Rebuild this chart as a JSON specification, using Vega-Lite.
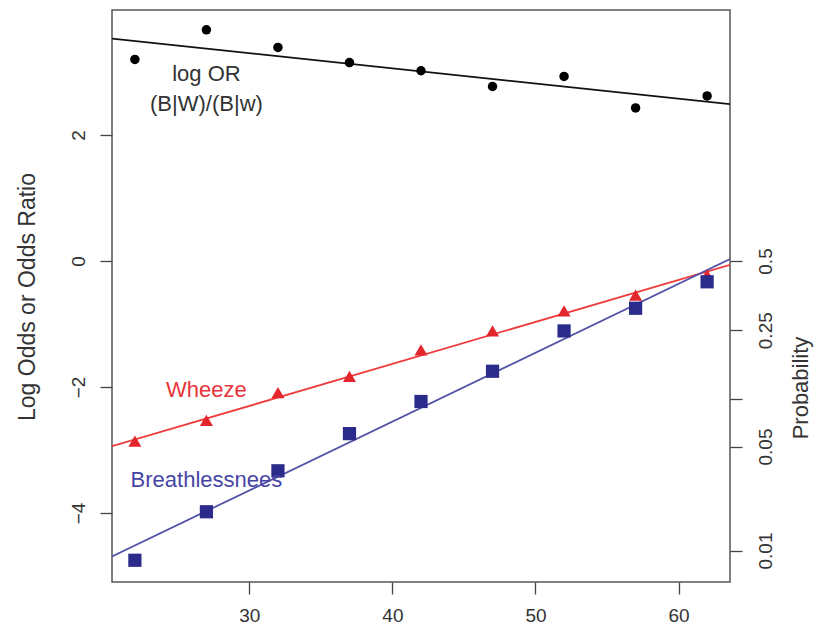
{
  "$schema": "https://vega.github.io/schema/vega-lite/v6.json",
  "width": 618,
  "height": 572,
  "autosize": {"type": "none"},
  "padding": {"left": 112, "top": 10, "right": 89, "bottom": 42},
  "background": "white",
  "config": {
    "font": "Liberation Sans",
    "view": {"stroke": "#555555", "strokeWidth": 1.5},
    "axis": {
      "domain": false,
      "grid": false,
      "tickColor": "#444444",
      "tickWidth": 1.3,
      "tickSize": 12,
      "labelColor": "#333333",
      "labelFont": "Liberation Sans",
      "labelFontSize": 19,
      "labelOverlap": false,
      "labelFlush": false,
      "labelBound": false,
      "titleFont": "Liberation Sans",
      "titleFontWeight": "normal",
      "titleColor": "#333333"
    }
  },
  "datasets": {
    "pts": [
      {"series": "or", "age": 22, "logodds": 3.20},
      {"series": "or", "age": 27, "logodds": 3.67},
      {"series": "or", "age": 32, "logodds": 3.39},
      {"series": "or", "age": 37, "logodds": 3.15},
      {"series": "or", "age": 42, "logodds": 3.02},
      {"series": "or", "age": 47, "logodds": 2.77},
      {"series": "or", "age": 52, "logodds": 2.93},
      {"series": "or", "age": 57, "logodds": 2.43},
      {"series": "or", "age": 62, "logodds": 2.62},
      {"series": "wheeze", "age": 22, "logodds": -2.86},
      {"series": "wheeze", "age": 27, "logodds": -2.53},
      {"series": "wheeze", "age": 32, "logodds": -2.09},
      {"series": "wheeze", "age": 37, "logodds": -1.83},
      {"series": "wheeze", "age": 42, "logodds": -1.41},
      {"series": "wheeze", "age": 47, "logodds": -1.11},
      {"series": "wheeze", "age": 52, "logodds": -0.79},
      {"series": "wheeze", "age": 57, "logodds": -0.54},
      {"series": "wheeze", "age": 62, "logodds": -0.22},
      {"series": "breath", "age": 22, "logodds": -4.75},
      {"series": "breath", "age": 27, "logodds": -3.98},
      {"series": "breath", "age": 32, "logodds": -3.33},
      {"series": "breath", "age": 37, "logodds": -2.74},
      {"series": "breath", "age": 42, "logodds": -2.23},
      {"series": "breath", "age": 47, "logodds": -1.75},
      {"series": "breath", "age": 52, "logodds": -1.11},
      {"series": "breath", "age": 57, "logodds": -0.75},
      {"series": "breath", "age": 62, "logodds": -0.33}
    ],
    "lines": [
      {"series": "or", "age": 20.4, "logodds": 3.53},
      {"series": "or", "age": 63.6, "logodds": 2.49},
      {"series": "wheeze", "age": 20.4, "logodds": -2.94},
      {"series": "wheeze", "age": 63.6, "logodds": -0.06},
      {"series": "breath", "age": 20.4, "logodds": -4.69},
      {"series": "breath", "age": 63.6, "logodds": 0.03}
    ],
    "labels": [
      {"series": "or", "text": "log OR", "age": 27, "logodds": 2.97},
      {"series": "or", "text": "(B|W)/(B|w)", "age": 27, "logodds": 2.49},
      {"series": "wheeze", "text": "Wheeze", "age": 27, "logodds": -2.05},
      {"series": "breath", "text": "Breathlessnees", "age": 27, "logodds": -3.47}
    ]
  },
  "layer": [
    {
      "data": {"name": "lines"},
      "transform": [{"filter": "datum.series == 'or'"}],
      "mark": {"type": "line", "color": "#111111", "strokeWidth": 1.8, "clip": true},
      "encoding": {
        "x": {"field": "age", "type": "quantitative", "scale": {"domain": [20.4, 63.6], "nice": false, "zero": false},
              "axis": {"values": [30, 40, 50, 60], "title": null, "labelBaseline": "middle", "labelPadding": 21}},
        "y": {"field": "logodds", "type": "quantitative", "scale": {"domain": [-5.095, 3.984], "nice": false, "zero": false},
              "axis": {"values": [-4, -2, 0, 2], "labelAngle": -90, "labelAlign": "center", "labelBaseline": "middle", "labelPadding": 22,
                       "title": "Log Odds or Odds Ratio", "titleFontSize": 23, "titleAngle": -90, "titleX": -84.5, "titleY": 286.5,
                       "titleAlign": "center", "titleBaseline": "middle"}}
      }
    },
    {
      "data": {"name": "lines"},
      "transform": [{"filter": "datum.series == 'wheeze'"}],
      "mark": {"type": "line", "color": "#ee3b3b", "strokeWidth": 1.8, "clip": true},
      "encoding": {
        "x": {"field": "age", "type": "quantitative"},
        "y": {"field": "logodds", "type": "quantitative", "axis": null}
      }
    },
    {
      "data": {"name": "lines"},
      "transform": [{"filter": "datum.series == 'breath'"}],
      "mark": {"type": "line", "color": "#5252a8", "strokeWidth": 1.8, "clip": true},
      "encoding": {
        "x": {"field": "age", "type": "quantitative"},
        "y": {"field": "logodds", "type": "quantitative", "axis": null}
      }
    },
    {
      "data": {"name": "pts"},
      "transform": [{"filter": "datum.series == 'or'"}],
      "mark": {"type": "point", "shape": "circle", "filled": true, "color": "#000000", "opacity": 1, "size": 90},
      "encoding": {
        "x": {"field": "age", "type": "quantitative"},
        "y": {"field": "logodds", "type": "quantitative", "axis": null}
      }
    },
    {
      "data": {"name": "pts"},
      "transform": [{"filter": "datum.series == 'wheeze'"}],
      "mark": {"type": "point", "shape": "triangle-up", "filled": true, "color": "#e3262b", "opacity": 1, "size": 170},
      "encoding": {
        "x": {"field": "age", "type": "quantitative"},
        "y": {"field": "logodds", "type": "quantitative", "axis": null}
      }
    },
    {
      "data": {"name": "pts"},
      "transform": [{"filter": "datum.series == 'breath'"}],
      "mark": {"type": "point", "shape": "square", "filled": true, "color": "#2b2b8c", "opacity": 1, "size": 175},
      "encoding": {
        "x": {"field": "age", "type": "quantitative"},
        "y": {"field": "logodds", "type": "quantitative", "axis": null}
      }
    },
    {
      "data": {"name": "labels"},
      "mark": {"type": "text", "fontSize": 22, "font": "Liberation Sans", "align": "center", "baseline": "middle"},
      "encoding": {
        "x": {"field": "age", "type": "quantitative"},
        "y": {"field": "logodds", "type": "quantitative", "axis": null},
        "text": {"field": "text"},
        "color": {"field": "series", "type": "nominal", "legend": null,
                  "scale": {"domain": ["or", "wheeze", "breath"], "range": ["#333333", "#e8333a", "#4545a5"]}}
      }
    },
    {
      "data": {"name": "pts"},
      "mark": {"type": "point", "opacity": 0},
      "encoding": {
        "x": {"field": "age", "type": "quantitative"},
        "y": {"field": "logodds", "type": "quantitative",
              "axis": {"orient": "right", "values": [0, -1.0986, -2.1972, -2.9444, -4.5951],
                       "labelExpr": "datum.value > -0.5 ? '0.5' : datum.value > -1.5 ? '0.25' : datum.value > -2.5 ? '' : datum.value > -3.5 ? '0.05' : '0.01'",
                       "labelAngle": -90, "labelAlign": "center", "labelBaseline": "middle", "labelPadding": 23,
                       "title": "Probability", "titleFontSize": 22, "titleAngle": -90, "titleX": 70, "titleY": 377.5,
                       "titleAlign": "center", "titleBaseline": "middle"}}
      }
    }
  ],
  "resolve": {"axis": {"y": "independent"}}
}
